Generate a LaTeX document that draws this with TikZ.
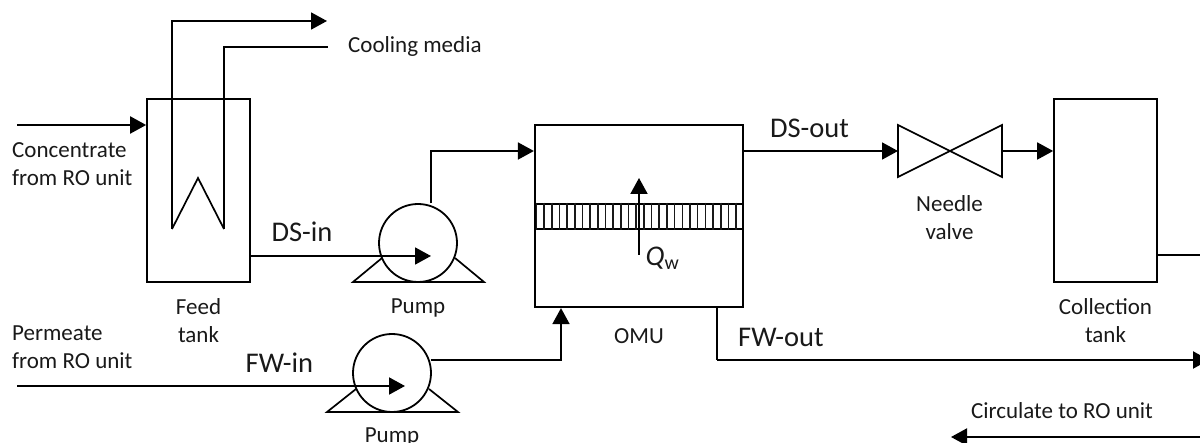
\documentclass[tikz,border=0pt]{standalone}
\usepackage{fontspec}
\setmainfont{Carlito}
\usetikzlibrary{arrows.meta,calc}
\tikzset{
  x=1pt,y=-1pt,
  line/.style={line width=1.7pt,black,line join=miter},
  heavy/.style={line width=2.6pt,black,line join=miter},
  flow/.style={line width=2pt,-{Triangle[length=16pt,width=17pt]}},
  flowthin/.style={line width=1.8pt,-{Triangle[length=16pt,width=17pt]}},
  tank/.style={draw,line width=1.7pt,rectangle,inner sep=0pt,minimum width=103pt,minimum height=183pt},
  unit/.style={draw,line width=2.2pt,rectangle,inner sep=0pt,minimum width=208pt,minimum height=182pt},
  pumpc/.style={draw,fill=white,circle,line width=1.8pt,inner sep=0pt,minimum size=78pt},
  lab/.style={font=\fontsize{23}{28}\selectfont,align=center,inner sep=0pt,text=black!90},
  labl/.style={lab,align=left,anchor=west},
  big/.style={font=\fontsize{28.5}{32}\selectfont,inner sep=0pt,text=black!90},
}
\begin{document}
\begin{tikzpicture}
\useasboundingbox (0,0) rectangle (1200,443);
% tanks and units
\node[tank] (feed) at (198.5,190.5) {};
\node[tank] (coll) at (1105.5,190.5) {};
\node[unit] (omu) at (639,216) {};
% membrane
\node[draw,line width=2.2pt,rectangle,inner sep=0pt,minimum width=208pt,minimum height=25.5pt] (mem) at (639,216.5) {};
\foreach \i in {0,...,26} \draw[line width=1.6pt,black!90] ($(mem.north west)+(2.5+7.68*\i,0)$) -- ($(mem.south west)+(2.5+7.68*\i,0)$);
% heat exchanger
\coordinate (hxa) at (172,229);
\coordinate (hxb) at (224,229);
\coordinate (hxt) at (198,178);
\coordinate (hxo1) at (172,21);
\coordinate (hxo2) at (327,21);
\coordinate (hxi1) at (224,47);
\coordinate (hxi2) at (328,47);
\draw[flowthin] (hxa) -- (hxo1) -- (hxo2);
\draw[line] (hxa) -- (hxt) -- (hxb);
\draw[heavy] (hxb) -- (hxi1) -- (hxi2);
% pumps
\coordinate (p1a) at (382,258);\coordinate (p1b) at (353,282);\coordinate (p1c) at (484,282);\coordinate (p1d) at (455,258);
\draw[line] (p1a) -- (p1b) -- (p1c) -- (p1d);
\node[pumpc] (pump1) at (418,243) {};
\coordinate (p2a) at (356,389);\coordinate (p2b) at (327,412);\coordinate (p2c) at (458,412);\coordinate (p2d) at (429,389);
\draw[line] (p2a) -- (p2b) -- (p2c) -- (p2d);
\node[pumpc] (pump2) at (392,373) {};
% valve
\coordinate (v1) at (898,125);\coordinate (v2) at (898,177);\coordinate (v3) at (1002,125);\coordinate (v4) at (1002,177);
\coordinate (vl) at (898,151);\coordinate (vr) at (1002,151);
\draw[line] (v1) -- (v4) -- (v3) -- (v2) -- cycle;
% connectors
\coordinate (cin) at (17,125);
\draw[flow] (cin) -- (feed.west |- cin);
\coordinate (dsi) at (431,256);
\draw[flowthin] (feed.east |- dsi) -- (dsi);
\coordinate (p1o) at (431,203.5);
\coordinate (dsc) at (431,151);
\draw[flowthin] (p1o) -- (dsc) -- (omu.west |- dsc);
\coordinate (fin) at (17,386);
\coordinate (p2i) at (405,386);
\draw[flow] (fin) -- (p2i);
\coordinate (p2o) at (430.5,360);
\coordinate (fwc) at (561,360);
\draw[flowthin] (p2o) -- (fwc) -- (fwc |- omu.south);
\coordinate (dso) at (743,151);
\draw[flowthin] (dso) -- (vl);
\draw[flowthin] (vr) -- (coll.west |- vr);
\coordinate (cout) at (1200,255);
\draw[line] (coll.east |- cout) -- (cout);
\coordinate (fwa) at (717,307);
\coordinate (fwb) at (717,360);
\coordinate (fwe) at (1209,360);
\draw[line] (fwa) -- (fwb);
\draw[line width=2.2pt,-{Triangle[length=16pt,width=17pt]}] (fwb) -- (fwe);
\coordinate (cre) at (1200,437);
\coordinate (crt) at (951,437);
\draw[flow] (cre) -- (crt);
\coordinate (qa) at (639,255);
\coordinate (qb) at (639,178);
\draw[flow] (qa) -- (qb);
% labels
\node[labl] (t1) at (348,46) {Cooling media};
\node[labl] (t2) at (12,164) {Concentrate\\from RO unit};
\node[labl] (t3) at (12,347) {Permeate\\from RO unit};
\node[lab] (t4) at (198.5,321) {Feed\\tank};
\node[lab] (t5) at (418,307.5) {Pump};
\node[lab] (t6) at (392,436.5) {Pump};
\node[lab] (t7) at (639,336) {OMU};
\node[lab] (t8) at (949.5,217.5) {Needle\\valve};
\node[lab] (t9) at (1105.5,321) {Collection\\tank};
\node[lab] (t10) at (1062,411) {Circulate to RO unit};
\node[big,anchor=west] (l1) at (271.5,232) {DS-in};
\node[big,anchor=west] (l2) at (245.5,362.5) {FW-in};
\node[big,anchor=west] (l3) at (770,128) {DS-out};
\node[big,anchor=west] (l4) at (738,337) {FW-out};
\node[big,anchor=west] (l5) at (645.5,258) {\textit{Q}\textsubscript{w}};
\end{tikzpicture}
\end{document}
